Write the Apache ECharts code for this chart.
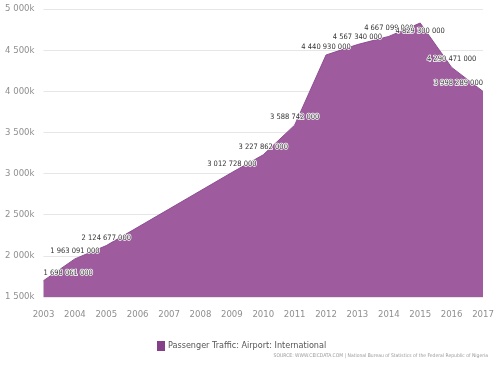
<!DOCTYPE html>
<html>
<head>
<meta charset="utf-8">
<script src="https://cdn.jsdelivr.net/npm/echarts@6/dist/echarts.min.js"></script>
<style>
html,body{margin:0;padding:0;background:#fff;}
#chart{width:502px;height:369px;}
</style>
</head>
<body>
<div id="chart"></div>
<script>
// Data (passengers), annual, years 2006-2008 missing in source
const years = [2003, 2004, 2005, 2009, 2010, 2011, 2012, 2013, 2014, 2015, 2016, 2017];
const passengers = [1698061000, 1963091000, 2124677000, 3012728000, 3227862000, 3588742000,
                    4440930000, 4567340000, 4667099000, 4829300000, 4290471000, 3998289000];
const yTicks = [1500000000, 5000000000, 500000000]; // min, max, step
const xRange = [2003, 2017];
const seriesName = 'Passenger Traffic: Airport: International';
const sourceText = 'SOURCE: WWW.CEICDATA.COM | National Bureau of Statistics of the Federal Republic of Nigeria';

const NARROW = "'DejaVu Sans Condensed', 'Liberation Sans Narrow', 'Liberation Sans', sans-serif";

function groupSpace(n) {
  return String(Math.round(n)).replace(/\B(?=(\d{3})+(?!\d))/g, ' ');
}

// label placement tweaks (by point index)
const labelTweaks = {
  0: { align: 'left', offset: [-2, 0] },
  6: { offset: [-6, -4] },
  7: { offset: [-8, -3] },
  9: { position: 'bottom', offset: [0, -2] },
  11: { align: 'right' }
};

const data = years.map((y, i) => {
  const item = { value: [y, passengers[i]] };
  if (labelTweaks[i]) item.label = labelTweaks[i];
  return item;
});

const chart = echarts.init(document.getElementById('chart'), null, { renderer: 'canvas' });
chart.setOption({
  animation: false,
  backgroundColor: '#ffffff',
  grid: { left: 43.5, right: 19, top: 9, bottom: 72, containLabel: false },
  xAxis: {
    type: 'value',
    min: xRange[0], max: xRange[1], interval: 1,
    axisLine: { show: false },
    axisTick: { show: false },
    splitLine: { show: false },
    axisLabel: {
      color: '#8f8f8f', fontSize: 9.5, fontFamily: NARROW, margin: 13,
      formatter: v => String(v)
    }
  },
  yAxis: {
    type: 'value',
    min: yTicks[0], max: yTicks[1], interval: yTicks[2],
    axisLine: { show: false },
    axisTick: { show: false },
    splitLine: { show: true, lineStyle: { color: '#e6e6e6', width: 1 } },
    axisLabel: {
      color: '#8f8f8f', fontSize: 9.5, fontFamily: NARROW, margin: 9,
      formatter: v => groupSpace(v / 1e6) + 'k'
    }
  },
  legend: {
    left: 152, top: 336,
    itemWidth: 8, itemHeight: 10, itemGap: 4,
    icon: 'rect',
    textStyle: { color: '#555', fontSize: 9, fontFamily: NARROW, padding: [0, 0, 0, -2] },
    data: [seriesName]
  },
  graphic: [{
    type: 'text',
    right: 14, top: 353,
    style: { text: sourceText, fill: '#9a9a9a', fontSize: 5, fontFamily: NARROW }
  }],
  series: [{
    name: seriesName,
    type: 'line',
    data: data,
    symbol: 'circle',
    symbolSize: 0,
    color: '#86408a',
    lineStyle: { color: '#8e4c92', width: 1 },
    areaStyle: { color: '#9e5c9f', opacity: 1 },
    label: {
      show: true,
      position: 'top',
      distance: 4,
      color: '#333',
      fontSize: 7.5,
      fontFamily: NARROW,
      textBorderColor: '#fff',
      textBorderWidth: 1.5,
      formatter: p => groupSpace(p.value[1])
    },
    labelLayout: { hideOverlap: false }
  }]
});
</script>
</body>
</html>
